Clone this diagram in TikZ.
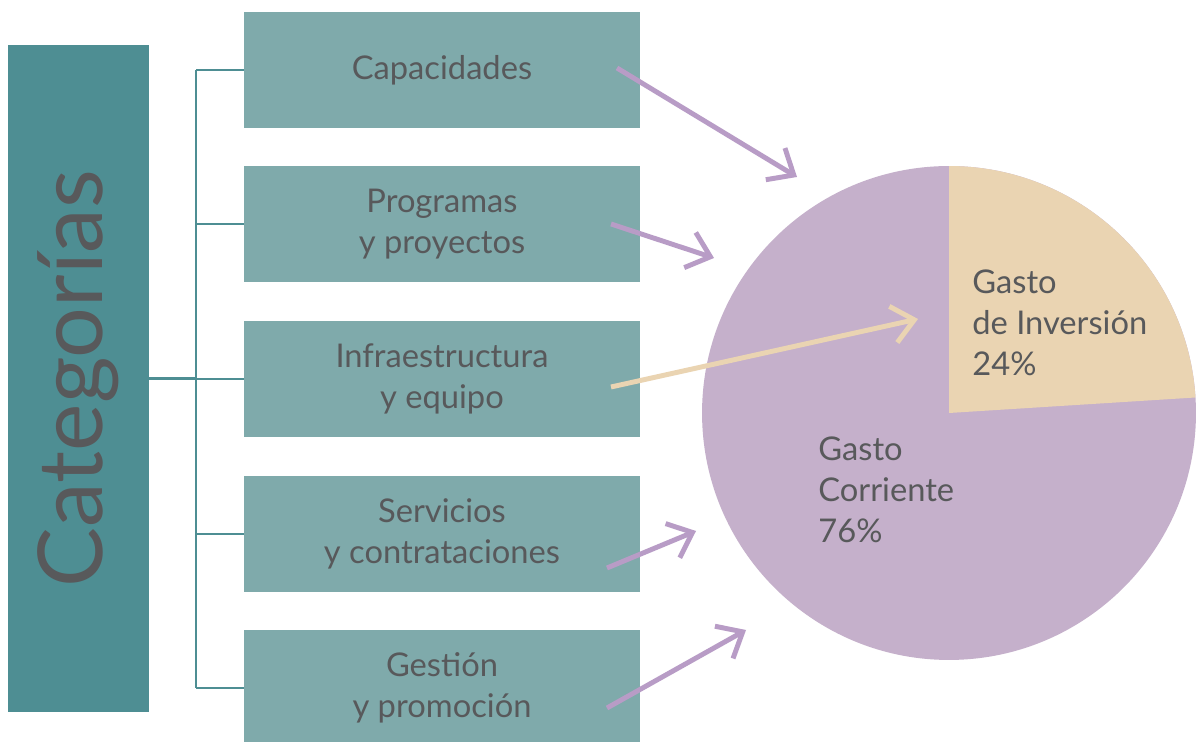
\documentclass[tikz,border=0pt]{standalone}
\usepackage{fontspec}
\setmainfont{Lato}
\usetikzlibrary{arrows.meta}
\definecolor{tealOsc}{HTML}{4E8E93}
\definecolor{tealCl}{HTML}{7FAAAB}
\definecolor{lila}{HTML}{C5B0CB}
\definecolor{lilaFl}{HTML}{B89CC6}
\definecolor{beige}{HTML}{EAD4B2}
\definecolor{texto}{HTML}{58595B}
\tikzset{
	caja/.style={fill=tealCl, minimum width=7.92cm, minimum height=2.32cm, inner sep=0, align=center, text=texto, font=\fontsize{18.6}{23.2}\selectfont},
	etiqueta/.style={anchor=west, align=left, inner sep=0, text=texto, font=\fontsize{18.6}{23.2}\selectfont},
	flecha/.style={line width=2.8pt, -{Straight Barb[length=4.3mm,width=7.4mm]}},
	rama/.style={tealOsc, line width=1.3pt}
}
\begin{document}
\begin{tikzpicture}[x=0.02cm,y=0.02cm]
	\fill[white] (0,0) rectangle (1196,742);
	\useasboundingbox (0,0) rectangle (1196,742);

	\node[fill=tealOsc, minimum width=2.82cm, minimum height=13.34cm, inner sep=0] (cat) at (78.5,363.5) {};
	\node[rotate=90, text=texto, font=\fontsize{51}{51}\selectfont] (titulo) at (cat.center) {Categorías};

	\node[caja] (b1) at (442,672) {Capacidades};
	\node[caja] (b2) at (442,518) {Programas\\y proyectos};
	\node[caja] (b3) at (442,363) {Infraestructura\\y equipo};
	\node[caja] (b4) at (442,208) {Servicios\\y contrataciones};
	\node[caja] (b5) at (442,54) {Gestión\\y promoción};

	\coordinate (eje) at (196,0);
	\draw[rama] (cat.east) -- (cat.east -| eje);
	\draw[rama] (b1.west -| eje) -- (b5.west -| eje);
	\foreach \c in {b1,b2,b3,b4,b5}
		\draw[rama] (\c.west -| eje) -- (\c.west);

	\coordinate (pc) at (949,329);
	\fill[lila] (pc) circle (4.94cm);
	\fill[beige] (pc) -- +(90:4.94cm) arc (90:3.6:4.94cm) -- cycle;
	\node[etiqueta] (inv) at (972,419) {Gasto\\de Inversión\\24\%};
	\node[etiqueta] (cor) at (818,252) {Gasto\\Corriente\\76\%};

	\coordinate (a1) at (617,674);
	\coordinate (p1) at (797,565);
	\coordinate (a2) at (611,518);
	\coordinate (p2) at (714,484);
	\coordinate (a3) at (611,355);
	\coordinate (p3) at (918,423);
	\coordinate (a4) at (607,174);
	\coordinate (p4) at (696,211);
	\coordinate (a5) at (607,34);
	\coordinate (p5) at (746,112);

	\draw[flecha, lilaFl] (a1) -- (p1);
	\draw[flecha, lilaFl] (a2) -- (p2);
	\draw[flecha, beige] (a3) -- (p3);
	\draw[flecha, lilaFl] (a4) -- (p4);
	\draw[flecha, lilaFl] (a5) -- (p5);
\end{tikzpicture}
\end{document}
